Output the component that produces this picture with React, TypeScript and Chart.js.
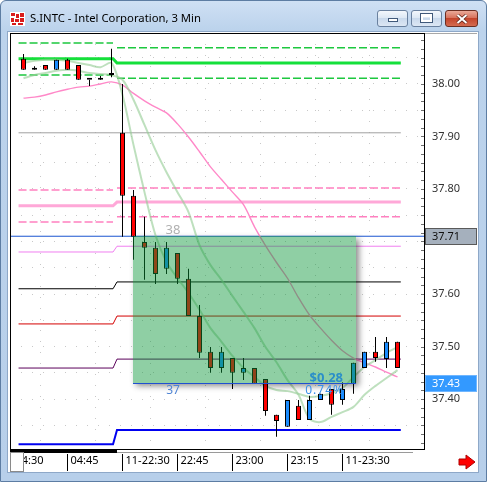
import React, { useEffect, useRef } from 'react';
import { Chart, registerables } from 'chart.js';

Chart.register(...registerables);

const FONT = "'Noto Sans', 'DejaVu Sans', sans-serif";

// ---------- data ----------
// bar index of each 3-minute bar (0 = 04:30)
const barIndex = [1, 2, 3, 4, 5, 6, 7, 8, 9, 10, 11, 12, 13, 14, 15, 16, 17, 18, 19, 20, 21, 22, 23, 24, 25, 26, 27, 28, 29, 30, 31, 32, 33, 34, 35];
const opens = [38.048, 38.027, 38.036, 38.027, 38.046, 38.036, 38.008, 38.008, 38.017, 37.907, 37.787, 37.699, 37.688, 37.648, 37.678, 37.629, 37.558, 37.490, 37.459, 37.478, 37.450, 37.459, 37.438, 37.370, 37.347, 37.387, 37.360, 37.398, 37.419, 37.398, 37.429, 37.459, 37.490, 37.476, 37.509];
const highs = [38.057, 38.034, 38.036, 38.046, 38.048, 38.036, 38.008, 38.015, 38.067, 38.000, 37.798, 37.747, 37.699, 37.699, 37.678, 37.648, 37.579, 37.499, 37.499, 37.478, 37.478, 37.459, 37.438, 37.370, 37.398, 37.398, 37.406, 37.410, 37.419, 37.432, 37.469, 37.490, 37.518, 37.518, 37.509];
const lows = [38.027, 38.027, 38.027, 38.027, 38.027, 38.008, 37.996, 38.008, 38.013, 37.709, 37.665, 37.627, 37.619, 37.638, 37.619, 37.558, 37.478, 37.450, 37.450, 37.419, 37.436, 37.429, 37.368, 37.328, 37.347, 37.360, 37.360, 37.398, 37.370, 37.389, 37.410, 37.459, 37.471, 37.459, 37.459];
const closes = [38.027, 38.027, 38.027, 38.046, 38.027, 38.008, 38.008, 38.008, 38.017, 37.787, 37.709, 37.688, 37.638, 37.688, 37.629, 37.558, 37.488, 37.459, 37.490, 37.450, 37.459, 37.429, 37.377, 37.358, 37.398, 37.360, 37.398, 37.410, 37.389, 37.419, 37.469, 37.490, 37.478, 37.509, 37.459];

const maPink = [37.973, 37.975, 37.979, 37.985, 37.990, 37.994, 37.996, 38.000, 38.004, 37.998, 37.982, 37.968, 37.956, 37.945, 37.924, 37.899, 37.871, 37.842, 37.818, 37.794, 37.770, 37.728, 37.692, 37.660, 37.630, 37.593, 37.560, 37.535, 37.512, 37.492, 37.478, 37.469, 37.461, 37.451, 37.442];
const maFast = [38.040, 38.044, 38.046, 38.046, 38.044, 38.040, 38.036, 38.032, 38.040, 37.979, 37.884, 37.794, 37.712, 37.661, 37.630, 37.602, 37.570, 37.535, 37.509, 37.482, 37.459, 37.442, 37.425, 37.417, 37.415, 37.410, 37.404, 37.406, 37.411, 37.421, 37.442, 37.461, 37.474, 37.488, 37.499];
const maSlow = [38.011, 38.017, 38.021, 38.025, 38.027, 38.025, 38.021, 38.019, 38.017, 38.008, 37.970, 37.922, 37.874, 37.832, 37.794, 37.756, 37.693, 37.655, 37.627, 37.596, 37.566, 37.535, 37.499, 37.470, 37.436, 37.408, 37.362, 37.356, 37.366, 37.375, 37.385, 37.408, 37.425, 37.440, 37.455];

const timeTickIndex = [0, 5, 10, 15, 20, 25, 30];
const timeTickLabels = ['04:30', '04:45', '11-22:30', '22:45', '23:00', '23:15', '11-23:30'];
const priceTickValues = [37.40, 37.50, 37.60, 37.70, 37.80, 37.90, 38.00];
const priceGridValues = [37.35, 37.40, 37.45, 37.50, 37.55, 37.60, 37.65, 37.70, 37.75, 37.80, 37.85, 37.90, 37.95, 38.00, 38.05];

// pivot levels: previous session (left part) and current session (right part)
const levelPrev = [38.078, 38.048, 38.017, 37.907, 37.798, 37.768, 37.737, 37.680, 37.610, 37.543, 37.459, 37.314];
const levelCurr = [38.069, 38.040, 38.011, 37.907, 37.802, 37.775, 37.747, 37.691, 37.623, 37.558, 37.476, 37.341];
const levelPrevSpan = [0.55, 9.14];
const levelCurrSpan = [9.5, 35.3];

const lastPrice = 37.71;
const rangeIndex = [10.95, 31.23];
const rangePrice = [37.71, 37.43];
const rangeBarsTop = '38';
const rangeBarsBottom = '37';
const rangeChange = '$0.28';
const rangePercent = '0.74%';
const markerPrices = [37.71, 37.43];

const viewIndex = [-0.227273, 37.409091];
const viewPrice = [37.3067, 38.0971];

// ---------- styles ----------
const levelColors = ['#1dc83f', '#14e03a', '#1dc83f', '#a0a0a0', '#ff80c0', '#ffa8d8', '#ff80c0', '#f07ff0', '#000000', '#d40000', '#5a005a', '#0000f0'];
const levelWidths = [1.5, 3, 1.5, 1, 1.5, 3, 1.5, 1, 1, 1, 1, 2];
const levelDashed = [true, false, true, false, true, false, true, false, false, false, false, false];

const overlayPlugin = {
  id: 'rangeOverlay',
  afterDatasetsDraw(chart: any) {
    const { ctx, chartArea: ca, scales } = chart;
    const xs = scales.x, ys = scales.y;
    const x0 = Math.round(xs.getPixelForValue(rangeIndex[0]));
    const x1 = Math.round(xs.getPixelForValue(rangeIndex[1]));
    const y0 = Math.round(ys.getPixelForValue(rangePrice[0]));
    const y1 = Math.round(ys.getPixelForValue(rangePrice[1]));
    ctx.save();
    ctx.beginPath();
    ctx.rect(ca.left, ca.top, ca.right - ca.left, ca.bottom - ca.top);
    ctx.clip();
    // shadow only outside the box
    ctx.save();
    ctx.beginPath();
    ctx.rect(0, 0, chart.width, chart.height);
    ctx.rect(x0, y0, x1 - x0, y1 - y0);
    ctx.clip('evenodd');
    ctx.shadowColor = 'rgba(0,0,0,0.45)';
    ctx.shadowBlur = 6;
    ctx.shadowOffsetX = 3;
    ctx.shadowOffsetY = 3;
    ctx.fillStyle = '#000';
    ctx.fillRect(x0, y0, x1 - x0, y1 - y0);
    ctx.restore();
    ctx.fillStyle = 'rgba(11,150,57,0.46)';
    ctx.fillRect(x0, y0, x1 - x0, y1 - y0);
    // bottom line
    ctx.strokeStyle = '#2050d0';
    ctx.lineWidth = 1;
    ctx.beginPath();
    ctx.moveTo(x0, y1 + 0.5);
    ctx.lineTo(x1, y1 + 0.5);
    ctx.stroke();
    // texts
    ctx.textAlign = 'center';
    ctx.textBaseline = 'alphabetic';
    ctx.font = `13px ${FONT}`;
    ctx.fillStyle = '#b0b0b0';
    ctx.fillText(rangeBarsTop, x0 + 40, y0 - 2);
    ctx.font = `12px ${FONT}`;
    ctx.fillStyle = '#4f84d4';
    ctx.fillText(rangeBarsBottom, x0 + 40, y1 + 11);
    ctx.textAlign = 'right';
    ctx.font = `bold 13px ${FONT}`;
    ctx.fillStyle = '#2b8fc9';
    ctx.fillText(rangeChange, x1 - 13, y1 - 1);
    ctx.font = `12px ${FONT}`;
    ctx.fillStyle = '#3a90e8';
    (ctx as any).letterSpacing = '1px';
    ctx.fillText(rangePercent, x1 - 12, y1 + 11);
    (ctx as any).letterSpacing = '0px';
    ctx.restore();
  },
  afterDraw(chart: any) {
    const { ctx, chartArea: ca, scales } = chart;
    const xs = scales.x, ys = scales.y;
    ctx.save();
    // minor price ticks
    ctx.fillStyle = '#707070';
    for (let k = -60; k <= 60; k++) {
      const p = 38 + (k * 0.05) / 3;
      if (p <= ys.min || p >= ys.max) continue;
      const py = Math.round(ys.getPixelForValue(p));
      ctx.fillRect(ca.right - 3, py, 3, 1);
    }
    // plot border
    ctx.strokeStyle = '#000';
    ctx.lineWidth = 1;
    ctx.strokeRect(ca.left + 0.5, ca.top + 0.5, ca.right - ca.left, ca.bottom - ca.top + 1);
    ctx.strokeStyle = '#a8a8a8';
    ctx.beginPath();
    ctx.moveTo(ca.right + 1, ca.top + 0.5);
    ctx.lineTo(477, ca.top + 0.5);
    ctx.stroke();
    // bottom scroll bar
    ctx.fillStyle = '#000';
    ctx.fillRect(ca.left, ca.bottom + 2, 107, 3);
    ctx.fillStyle = '#9a9a9a';
    ctx.fillRect(ca.left + 107, ca.bottom + 4, 296, 1);
    // time separators
    ctx.fillStyle = '#000';
    timeTickIndex.forEach((v) => {
      const px = Math.floor(xs.getPixelForValue(v));
      ctx.fillRect(px, ca.bottom + 6, 1, 17);
    });
    // thumb
    ctx.fillStyle = '#fff';
    ctx.fillRect(10, 452, 14, 20);
    ctx.strokeStyle = '#8a8a8a';
    ctx.strokeRect(10.5, 452.5, 13, 19);
    // price markers
    const boxes = [
      { fill: '#a5b0bd', stroke: '#5a5a5a', color: '#111' },
      { fill: '#3399ff', stroke: '#6fb6ff', color: '#fff' },
    ];
    markerPrices.forEach((p, k) => {
      const py = Math.round(ys.getPixelForValue(p));
      const b = boxes[k];
      ctx.fillStyle = b.fill;
      ctx.fillRect(425, py - 8, 52, 17);
      ctx.strokeStyle = b.stroke;
      ctx.strokeRect(425.5, py - 7.5, 51, 16);
      ctx.fillStyle = b.color;
      ctx.font = `11px ${FONT}`;
      ctx.textAlign = 'left';
      ctx.textBaseline = 'middle';
      ctx.fillText(p.toFixed(2), 432, py + 0.5);
    });
    // red arrow
    ctx.beginPath();
    ctx.moveTo(459, 459);
    ctx.lineTo(466, 459);
    ctx.lineTo(466, 455);
    ctx.lineTo(475, 462);
    ctx.lineTo(466, 469);
    ctx.lineTo(466, 465);
    ctx.lineTo(459, 465);
    ctx.closePath();
    ctx.fillStyle = '#ff0000';
    ctx.fill();
    ctx.strokeStyle = '#b00000';
    ctx.stroke();
    ctx.restore();
  },
};

export default function App() {
  const ref = useRef<HTMLCanvasElement>(null);

  useEffect(() => {
    if (!ref.current) return;
    Chart.defaults.font.family = FONT;
    Chart.defaults.font.size = 11;

    const levelDatasets = levelCurr.map((r, k) => {
      const l = levelPrev[k];
      const pts = levelDashed[k]
        ? [
            { x: levelPrevSpan[0], y: l },
            { x: levelPrevSpan[1], y: l },
            { x: (levelPrevSpan[1] + levelCurrSpan[0]) / 2, y: null },
            { x: levelCurrSpan[0], y: r },
            { x: levelCurrSpan[1], y: r },
          ]
        : [
            { x: levelPrevSpan[0], y: l },
            { x: levelPrevSpan[1], y: l },
            { x: levelCurrSpan[0], y: r },
            { x: levelCurrSpan[1], y: r },
          ];
      return {
        type: 'line',
        data: pts,
        borderColor: levelColors[k],
        borderWidth: levelWidths[k],
        borderDash: levelDashed[k] ? [8, 3] : [],
        pointRadius: 0,
        spanGaps: false,
        tension: 0,
        fill: false,
        order: 5,
      };
    });

    const maLine = (vals: number[], color: string, width: number) => ({
      type: 'line',
      data: barIndex.map((x, k) => ({ x, y: vals[k] })),
      borderColor: color,
      borderWidth: width,
      pointRadius: 0,
      tension: 0.3,
      fill: false,
      order: 3,
    });

    const bodyColors = barIndex.map((_, k) =>
      closes[k] > opens[k] ? '#1a8cff' : closes[k] < opens[k] ? '#ff0000' : '#000000'
    );

    const chart = new Chart(ref.current, {
      type: 'bar',
      data: {
        datasets: [
          {
            type: 'bar',
            data: barIndex.map((x, k) => ({ x, y: [Math.min(opens[k], closes[k]), Math.max(opens[k], closes[k])] })),
            backgroundColor: bodyColors,
            borderColor: '#000',
            borderWidth: 1,
            borderSkipped: false,
            barThickness: 5,
            minBarLength: 2,
            grouped: false,
            inflateAmount: 0,
            order: 0,
          },
          {
            type: 'bar',
            data: barIndex.map((x, k) => ({ x, y: [lows[k], highs[k]] })),
            backgroundColor: '#000',
            borderWidth: 0,
            barThickness: 1,
            grouped: false,
            inflateAmount: 0,
            order: 1,
          },
          maLine(maFast, 'rgba(150,205,150,0.62)', 2),
          maLine(maSlow, 'rgba(150,205,150,0.62)', 2),
          maLine(maPink, '#ff88c8', 1.4),
          {
            type: 'line',
            data: [
              { x: viewIndex[0], y: lastPrice },
              { x: viewIndex[1], y: lastPrice },
            ],
            borderColor: '#1a55d0',
            borderWidth: 1,
            pointRadius: 0,
            order: 4,
          },
          ...levelDatasets,
        ] as any,
      },
      options: {
        animation: false,
        responsive: false,
        maintainAspectRatio: false,
        devicePixelRatio: 1,
        events: [],
        layout: { padding: { left: 10, top: 33, right: 10, bottom: 10 } },
        plugins: { legend: { display: false }, tooltip: { enabled: false } },
        scales: {
          x: {
            type: 'linear',
            min: viewIndex[0],
            max: viewIndex[1],
            offset: false,
            afterBuildTicks: (s: any) => {
              s.ticks = timeTickIndex.map((v) => ({ value: v }));
            },
            afterFit: (s: any) => {
              s.height = 24;
            },
            ticks: {
              callback: (_v: any, i: number) => timeTickLabels[i],
              align: 'start',
              labelOffset: 3,
              padding: 6,
              maxRotation: 0,
              autoSkip: false,
              color: '#000',
              font: { size: 11 },
            },
            grid: { color: '#c8c8c8', drawTicks: false, lineWidth: 1 },
            border: { display: false, dash: [1, 10] },
          },
          y: {
            type: 'linear',
            position: 'right',
            min: viewPrice[0],
            max: viewPrice[1],
            afterBuildTicks: (s: any) => {
              s.ticks = priceGridValues.map((v) => ({ value: v }));
            },
            afterFit: (s: any) => {
              s.width = 53;
            },
            ticks: {
              callback: (v: any) =>
                priceTickValues.some((p) => Math.abs(p - Number(v)) < 1e-6) ? Number(v).toFixed(2) : '',
              padding: 8,
              autoSkip: false,
              color: '#333',
              font: { size: 11 },
            },
            grid: { color: '#c8c8c8', drawTicks: false, lineWidth: 1 },
            border: { display: false, dash: [1, 10] },
          },
        },
      } as any,
      plugins: [overlayPlugin],
    });
    return () => chart.destroy();
  }, []);

  const btn: React.CSSProperties = {
    position: 'absolute',
    top: 10,
    height: 17,
    boxSizing: 'border-box',
    border: '1px solid #6a819f',
    borderRadius: 3,
  };

  return (
    <div style={{ position: 'fixed', left: 0, top: 0, width: 487, height: 482, overflow: 'hidden', fontFamily: FONT }}>
      <div
        style={{
          position: 'absolute',
          left: 0,
          top: 0,
          width: 487,
          height: 482,
          boxSizing: 'border-box',
          border: '1px solid #5d7da3',
          borderRadius: '6px 6px 0 0',
          background: 'linear-gradient(180deg,#cfe0f4 0px,#bcd3ec 28px,#b7cfea 100%)',
        }}
      />
      <svg style={{ position: 'absolute', left: 10, top: 12 }} width="15" height="14">
        <rect x="0" y="0" width="15" height="14" fill="#fff" />
        <rect x="1" y="1" width="4" height="3" fill="#d91c1c" />
        <rect x="6" y="2" width="3" height="4" fill="#d91c1c" />
        <rect x="10" y="1" width="4" height="4" fill="#d91c1c" />
        <rect x="1" y="6" width="3" height="4" fill="#d91c1c" />
        <rect x="5" y="7" width="4" height="3" fill="#d91c1c" />
        <rect x="10" y="6" width="4" height="4" fill="#d91c1c" />
        <rect x="2" y="11" width="4" height="2" fill="#d91c1c" />
        <rect x="8" y="11" width="5" height="2" fill="#d91c1c" />
      </svg>
      <div
        style={{
          position: 'absolute',
          left: 30,
          top: 10,
          fontSize: 11.3,
          lineHeight: '16px',
          color: '#000',
          whiteSpace: 'nowrap',
        }}
      >
        S.INTC - Intel Corporation, 3 Min
      </div>
      <div style={{ ...btn, left: 377, width: 31, background: 'linear-gradient(180deg,#f3f7fc 0%,#dde8f4 45%,#c9d9ec 50%,#dce7f4 100%)' }}>
        <div style={{ position: 'absolute', left: 10, top: 7, width: 10, height: 4, boxSizing: 'border-box', background: '#fff', border: '1px solid #40597a' }} />
      </div>
      <div style={{ ...btn, left: 411, width: 31, background: 'linear-gradient(180deg,#f3f7fc 0%,#dde8f4 45%,#c9d9ec 50%,#dce7f4 100%)' }}>
        <div style={{ position: 'absolute', left: 9, top: 3, width: 11, height: 8, boxSizing: 'border-box', border: '2px solid #fff', borderTopWidth: 3, outline: '1px solid #40597a' }} />
      </div>
      <div style={{ ...btn, left: 445, width: 33, border: '1px solid #6b2e22', background: 'linear-gradient(180deg,#eaa998 0%,#d8735e 45%,#c4452c 50%,#d46b50 100%)' }}>
        <svg style={{ position: 'absolute', left: 10, top: 3 }} width="12" height="10">
          <path d="M1.5 1 L10.5 9 M10.5 1 L1.5 9" stroke="#5a2016" strokeWidth="3.4" />
          <path d="M1.5 1 L10.5 9 M10.5 1 L1.5 9" stroke="#fff" strokeWidth="2" />
        </svg>
      </div>
      <div
        style={{
          position: 'absolute',
          left: 8,
          top: 32,
          width: 470,
          height: 440,
          background: '#fff',
          boxShadow: '0 0 0 1px #8ea8c8',
        }}
      />
      <canvas ref={ref} width={487} height={482} style={{ position: 'absolute', left: 0, top: 0, width: 487, height: 482 }} />
    </div>
  );
}
